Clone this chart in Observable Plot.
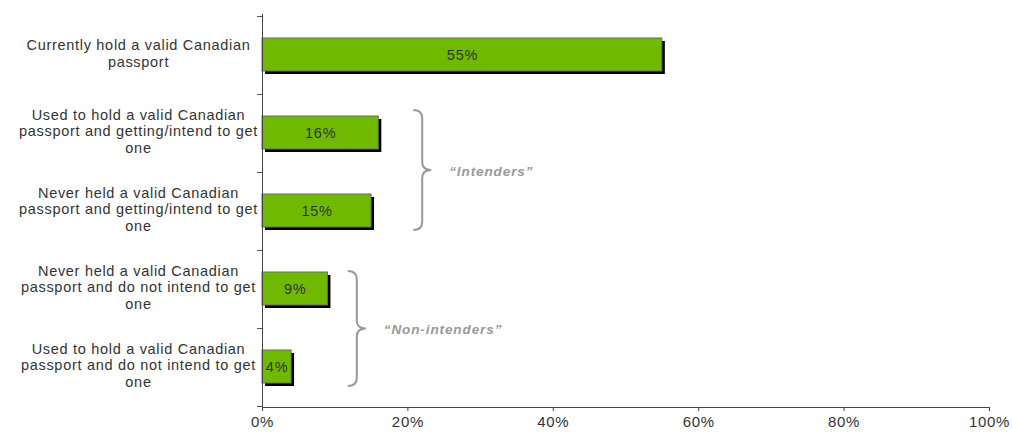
<!DOCTYPE html>
<html>
<head>
<meta charset="utf-8">
<script src="https://cdn.jsdelivr.net/npm/d3@7"></script>
<script src="https://cdn.jsdelivr.net/npm/@observablehq/plot@0.6"></script>
<style>
  html, body { margin: 0; padding: 0; background: #fff; }
  #chart { width: 1012px; height: 432px; }
  svg { font-family: "Liberation Sans", Arial, sans-serif; }
  svg text { letter-spacing: 0.7px; }
  svg text.grp { letter-spacing: 0.9px; }
</style>
</head>
<body>
<div id="chart"></div>
<script>
// Data
const categories = [
  "Currently hold a valid Canadian\npassport",
  "Used to hold a valid Canadian\npassport and getting/intend to get\none",
  "Never held a valid Canadian\npassport and getting/intend to get\none",
  "Never held a valid Canadian\npassport and do not intend to get\none",
  "Used to hold a valid Canadian\npassport and do not intend to get\none"
];
const values = [55, 16, 15, 9, 4];
const xTicks = [0, 20, 40, 60, 80, 100];
// Group annotations: label, first & last category index, brace x position (percent)
const groupLabels = ["\u201CIntenders\u201D", "\u201CNon-intenders\u201D"];
const groupStart = [1, 3];
const groupEnd = [2, 4];
const groupBraceX = [20.8, 11.8];
const groupPad = [6, 1];

const data = categories.map((c, i) => ({cat: c, value: values[i]}));
const groups = groupLabels.map((g, i) => ({label: g, from: categories[groupStart[i]], to: categories[groupEnd[i]], x: groupBraceX[i], pad: groupPad[i]}));

const W = 1012, H = 432;

// Custom mark: category boundary ticks on the y axis
function bandTicks() {
  return (index, scales, values, dims) => {
    const y = scales.y;
    const step = y(categories[1]) - y(categories[0]);
    const bw = y.bandwidth ? y.bandwidth() : 0;
    const off = (step - bw) / 2;
    const g = d3.create("svg:g");
    const ys = categories.map(c => y(c) - off);
    ys.push(y(categories[categories.length - 1]) + bw + off);
    for (const yy of ys) {
      g.append("line")
        .attr("x1", dims.marginLeft - 5).attr("x2", dims.marginLeft)
        .attr("y1", Math.round(yy) + 0.5).attr("y2", Math.round(yy) + 0.5)
        .attr("stroke", "#555").attr("stroke-width", 1);
    }
    return g.node();
  };
}

// Custom mark: curly braces with labels
function braces() {
  return (index, scales, values, dims) => {
    const y = scales.y, x = scales.x;
    const bw = y.bandwidth ? y.bandwidth() : 0;
    const g = d3.create("svg:g");
    for (const gr of groups) {
      const y0 = y(gr.from) - gr.pad;
      const y1 = y(gr.to) + bw + 3;
      const ym = (y0 + y1) / 2;
      const x0 = x(gr.x);
      const w = 18;
      const r = 8;
      const xm = x0 + w / 2;
      const path = `M${x0},${y0} Q${xm},${y0} ${xm},${y0 + r} L${xm},${ym - r} Q${xm},${ym} ${x0 + w},${ym} Q${xm},${ym} ${xm},${ym + r} L${xm},${y1 - r} Q${xm},${y1} ${x0},${y1}`;
      g.append("path").attr("d", path).attr("fill", "none")
        .attr("stroke", "#999").attr("stroke-width", 2);
      g.append("text")
        .attr("class", "grp")
        .attr("x", x0 + w + 18).attr("y", ym + 2)
        .attr("text-anchor", "start")
        .attr("dominant-baseline", "middle")
        .attr("font-size", 13.5).attr("font-weight", "bold").attr("font-style", "italic")
        .attr("fill", "#999")
        .text(gr.label);
    }
    return g.node();
  };
}

const chart = Plot.plot({
  width: W,
  height: H,
  marginTop: 14,
  marginBottom: 25,
  marginLeft: 262,
  marginRight: 23,
  style: {fontFamily: "Liberation Sans, Arial, sans-serif", fontSize: "14.5px", color: "#333", background: "#fff", overflow: "visible"},
  x: {domain: [0, 100], axis: null},
  y: {domain: categories, paddingInner: 0.575, paddingOuter: 0.2875, axis: null},
  marks: [
    // shadows
    Plot.barX(data, {y: "cat", x: "value", fill: "#000", dx: 3, dy: 3}),
    // bars
    Plot.barX(data, {y: "cat", x: "value", fill: "#6fba00", stroke: "#6b6b6b", strokeWidth: 1}),
    // value labels
    Plot.text(data, {y: "cat", x: d => d.value / 2, text: d => d.value + "%", fill: "#333", fontSize: 14.5, dy: 0}),
    // category labels
    Plot.text(data, {y: "cat", text: "cat", frameAnchor: "left", dx: -124, dy: -2, textAnchor: "middle", fill: "#333", fontSize: 14.5, lineHeight: 1.14}),
    // axis lines
    Plot.frame({anchor: "left", stroke: "#444"}),
    Plot.frame({anchor: "bottom", stroke: "#444"}),
    Plot.axisX({ticks: xTicks, tickFormat: d => d + "%", tickSize: 4, tickPadding: 5, stroke: "#444", fill: "#333", fontSize: 15, anchor: "bottom", label: null}),
    bandTicks(),
    braces()
  ]
});

document.getElementById("chart").appendChild(chart);
</script>
</body>
</html>
